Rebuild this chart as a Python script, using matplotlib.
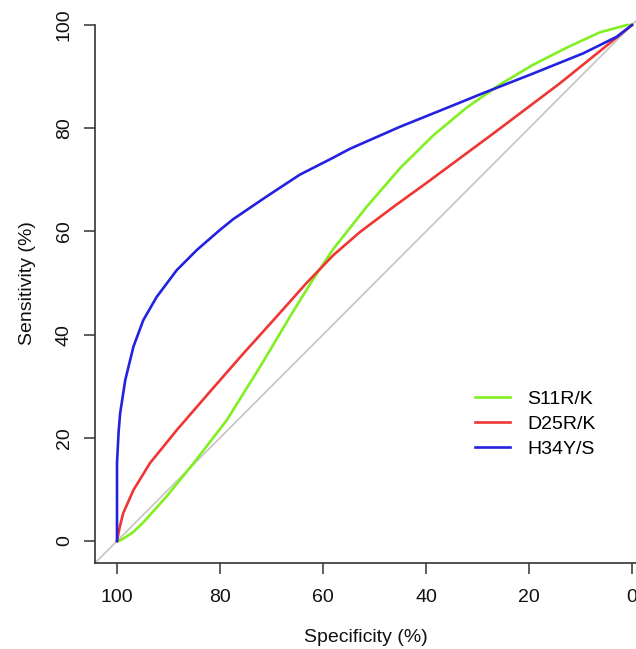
import matplotlib
matplotlib.use("Agg")
import matplotlib.pyplot as plt

plt.rcParams['font.family'] = ['Liberation Sans', 'DejaVu Sans']

# values (specificity %, sensitivity %)
s11_spec = [100, 99.4, 97.0, 94.9, 90.4, 85.2, 78.7, 72.2, 65.8, 62.0, 58.0, 51.5, 45.0, 38.6,
            32.1, 25.6, 19.2, 12.7, 6.2, 1.0, 0]
s11_sens = [0, 0.1, 1.6, 3.6, 8.6, 15.0, 23.4, 33.8, 44.5, 50.6, 56.6, 64.8, 72.3, 78.6,
            84.0, 88.5, 92.3, 95.6, 98.6, 100, 100]

d25_spec = [100, 99.5, 98.8, 96.8, 93.6, 88.4, 81.9, 75.5, 69.0, 63.2, 58.0, 52.8, 46.0, 39.9,
            26.9, 14.0, 4.3, 0]
d25_sens = [0, 2.6, 5.4, 9.9, 15.1, 21.5, 29.0, 36.3, 43.5, 50.0, 55.4, 59.9, 65.0, 69.4,
            79.0, 88.7, 96.5, 100]

h34_spec = [100, 100, 99.7, 99.4, 98.4, 96.8, 94.9, 92.3, 88.4, 84.5, 80.0, 77.4, 70.9, 64.5,
            58.0, 54.8, 45.0, 35.3, 28.9, 19.2, 9.5, 3.0, 0]
h34_sens = [0, 15.1, 21.0, 24.7, 31.2, 37.7, 42.8, 47.3, 52.5, 56.4, 60.3, 62.4, 66.8, 71.0,
            74.3, 76.0, 80.3, 84.2, 86.8, 90.6, 94.5, 97.7, 100]

labels = ['S11R/K', 'D25R/K', 'H34Y/S']
colors = ['#80f020', '#f03535', '#2222e0']
ticks = [100, 80, 60, 40, 20, 0]

fig = plt.figure(figsize=(6.36, 6.49), dpi=100)
ax = fig.add_axes([0.1494, 0.1325, 0.8506, 0.8613])

# chance line
ax.axline((100, 0), (0, 100), color='#c8c8c8', lw=1.3, zorder=1)

curves = [(s11_spec, s11_sens), (d25_spec, d25_sens), (h34_spec, h34_sens)]
for (sp, se), lab, col in zip(curves, labels, colors):
    ax.plot(sp, se, color=col, lw=1.9, label=lab, zorder=2,
            solid_joinstyle='round')

ax.set_xlim(104.27, -0.78)
ax.set_ylim(-4.26, 104.07)
ax.set_xticks(ticks)
ax.set_yticks(ticks[::-1])
ax.set_yticklabels([str(t) for t in ticks[::-1]], rotation=90, va='center')

for side in ['top', 'right']:
    ax.spines[side].set_visible(False)
ax.spines['left'].set_bounds(-4.26, 100)
for side in ['left', 'bottom']:
    ax.spines[side].set_color('#333333')
    ax.spines[side].set_linewidth(1.2)

ax.tick_params(axis='both', length=8, width=1.1, color='#333333',
               labelsize=14, labelcolor='#111111')
ax.tick_params(axis='x', pad=11)
ax.tick_params(axis='y', pad=8)

ax.set_xlabel('Specificity (%)', fontsize=14, labelpad=16, color='#111111')
ax.set_ylabel('Sensitivity (%)', fontsize=14, labelpad=14, color='#111111')

ax.legend(loc='center left', bbox_to_anchor=(0.684, 0.249), frameon=False,
          fontsize=14, handlelength=1.8, handletextpad=0.9, labelspacing=0.38,
          borderpad=0)

fig.savefig('out.png', dpi=100)
